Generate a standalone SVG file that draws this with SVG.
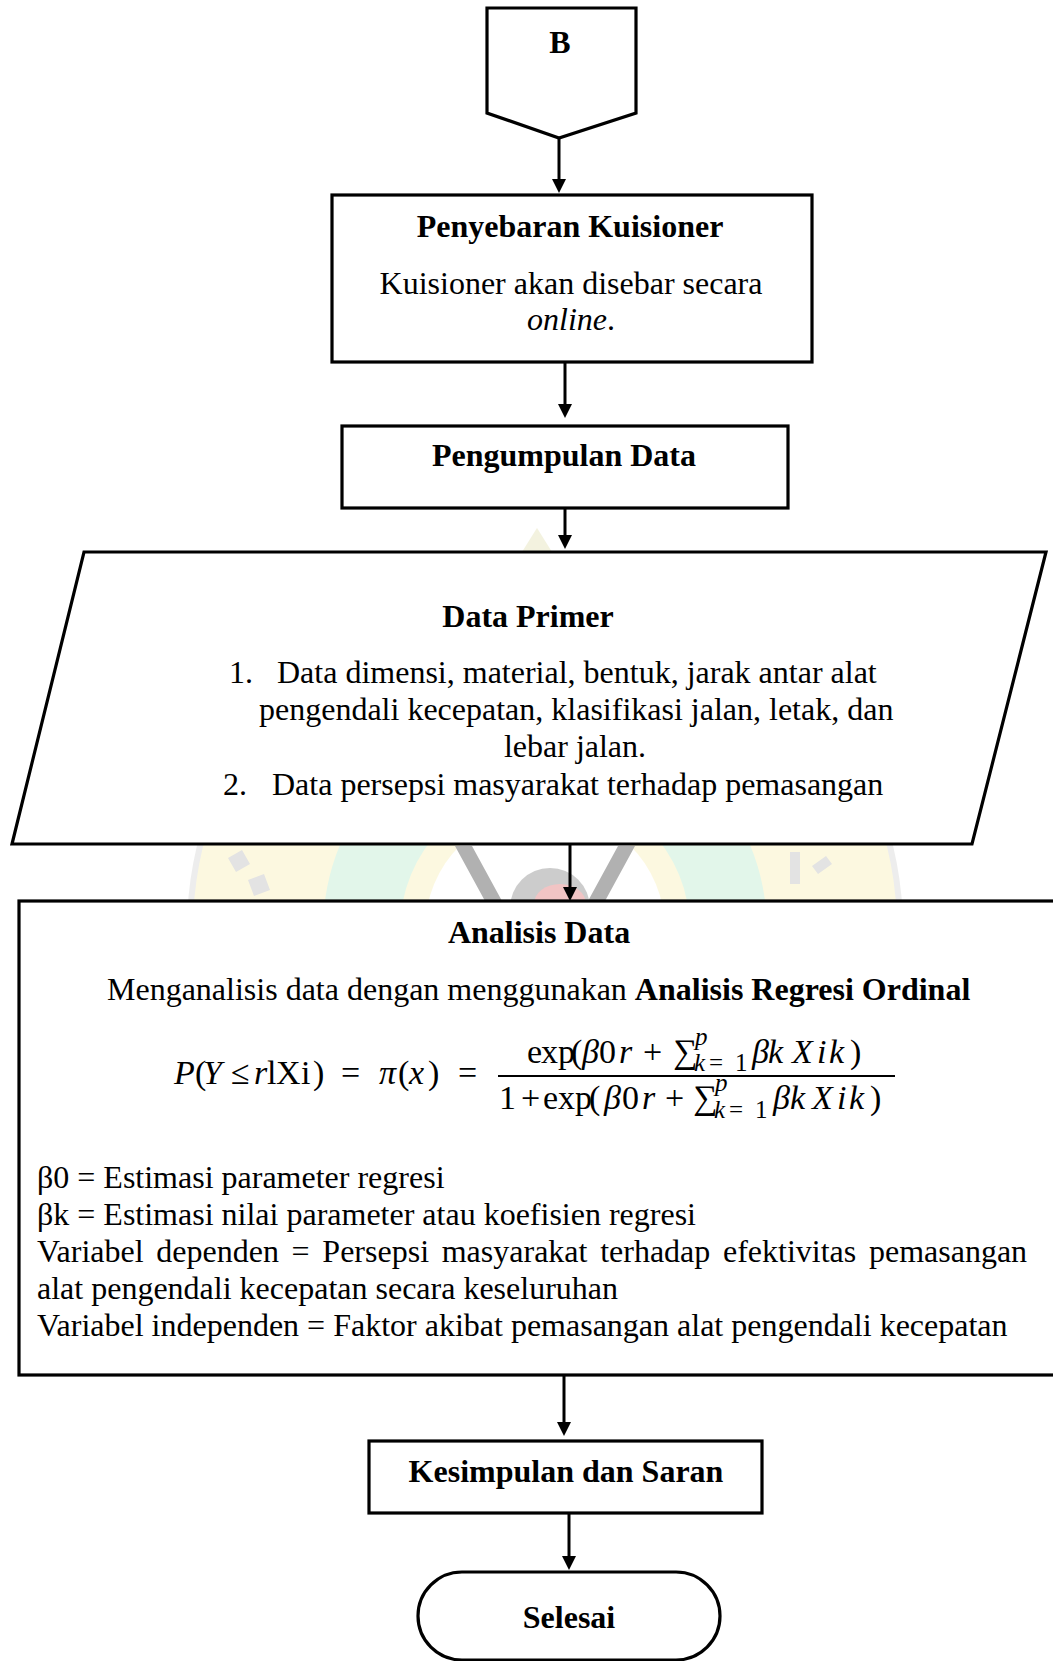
<svg xmlns="http://www.w3.org/2000/svg" width="1053" height="1661" viewBox="0 0 1053 1661">
<style>
  text { font-family: "Liberation Serif", "Times New Roman", serif; font-size: 32px; fill: #000; }
  .b { font-weight: bold; }
  .c { text-anchor: middle; }
  .i { font-style: italic; }
  .m text { font-size: 34px; }
  .m text.sm { font-size: 25px; }
  .shape { fill: #fff; stroke: #000; stroke-width: 3.2; }
  .conn { fill: none; stroke: #000; stroke-width: 3; }
</style>
<defs>
  <marker id="arrow" viewBox="0 0 14 14" refX="6" refY="7" markerWidth="14" markerHeight="14" markerUnits="userSpaceOnUse" orient="auto">
    <path d="M0,0 L14,7 L0,14 Z" fill="#000"/>
  </marker>
</defs>
<rect width="1053" height="1661" fill="#fff"/>

<g id="watermark" opacity="0.5">
  <polygon points="537,528 522,552 552,552" fill="#e8e6c0"/>
  <circle cx="545" cy="930" r="355" fill="#fbf3c2" stroke="#dcdcdc" stroke-width="6"/>
  <circle cx="545" cy="930" r="222" fill="#c6efd6"/>
  <circle cx="545" cy="930" r="145" fill="#fbf3c2"/>
  <circle cx="545" cy="930" r="120" fill="#ffffff"/>
  <path d="M455,846 L472,846 L502,901 L485,901 Z M635,846 L618,846 L588,901 L605,901 Z" fill="#666"/>
  <ellipse cx="550" cy="908" rx="40" ry="40" fill="#9a9a9a"/>
  <ellipse cx="560" cy="904" rx="26" ry="20" fill="#e58a8a"/>
  <path d="M228,858 l14,-8 l8,14 l-14,8 Z M248,880 l16,-6 l6,16 l-16,6 Z M790,852 l10,0 l0,32 l-10,0 Z M812,866 l14,-10 l6,8 l-14,10 Z" fill="#c8c8c8"/>
</g>

<g id="connectors">
  <path class="conn" d="M559,138 V185" marker-end="url(#arrow)"/>
  <path class="conn" d="M565,362 V410" marker-end="url(#arrow)"/>
  <path class="conn" d="M565,508 V541" marker-end="url(#arrow)"/>
  <path class="conn" d="M570,845 V893" stroke-width="2" marker-end="url(#arrow)"/>
  <path class="conn" d="M564,1376 V1428" marker-end="url(#arrow)"/>
  <path class="conn" d="M569,1514 V1562" marker-end="url(#arrow)"/>
</g>

<g id="node-b">
  <polygon class="shape" points="487,8 636,8 636,113 559,138 487,113"/>
  <text class="b c" x="560" y="53">B</text>
</g>

<g id="node-penyebaran">
  <rect class="shape" x="332" y="195" width="480" height="167"/>
  <text class="b c" x="570" y="237">Penyebaran Kuisioner</text>
  <text class="c" x="571" y="294">Kuisioner akan disebar secara</text>
  <text class="c" x="571" y="330"><tspan class="i">online</tspan>.</text>
</g>

<g id="node-pengumpulan">
  <rect class="shape" x="342" y="426" width="446" height="82"/>
  <text class="b c" x="564" y="466">Pengumpulan Data</text>
</g>

<g id="node-data-primer">
  <polygon class="shape" points="84,552 1046,552 972,844 12,844"/>
  <text class="b c" x="528" y="627">Data Primer</text>
  <text x="229" y="683">1.</text>
  <text x="277" y="683">Data dimensi, material, bentuk, jarak antar alat</text>
  <text x="259" y="720">pengendali kecepatan, klasifikasi jalan, letak, dan</text>
  <text class="c" x="575" y="757">lebar jalan.</text>
  <text x="223" y="795">2.</text>
  <text x="272" y="795">Data persepsi masyarakat terhadap pemasangan</text>
</g>

<g id="node-analisis">
  <rect class="shape" x="19" y="901" width="1060" height="474"/>
  <text class="b c" x="539" y="943">Analisis Data</text>
  <text x="107" y="1000">Menganalisis data dengan menggunakan <tspan class="b">Analisis Regresi Ordinal</tspan></text>
  <g class="m">
    <text class="i" x="174" y="1084">P</text>
    <text x="195" y="1084">(</text>
    <text class="i" x="203" y="1084">Y</text>
    <text x="231" y="1084">≤</text>
    <text class="i" x="254" y="1084">r</text>
    <text x="267 276 301 313" y="1084">lXi)</text>
    <text x="341" y="1084">=</text>
    <text class="i" x="379" y="1084">π</text>
    <text x="398 409 428" y="1084">(<tspan class="i">x</tspan>)</text>
    <text x="458" y="1084">=</text>

    <text x="527 541 558 571" y="1063">exp(</text>
    <text class="i" x="582" y="1063">β</text>
    <text x="599" y="1063">0</text>
    <text class="i" x="619" y="1063">r</text>
    <text x="643" y="1063">+</text>
    <text x="673" y="1063">∑</text>
    <text class="sm i" x="695" y="1045">p</text>
    <text class="sm" x="694 709 735" y="1071"><tspan class="i">k</tspan>=1</text>
    <text class="i" x="752 768" y="1063">βk</text>
    <text class="i" x="792 817 829" y="1063">Xik</text>
    <text x="850" y="1063">)</text>

    <line x1="498" y1="1076" x2="895" y2="1076" stroke="#000" stroke-width="2"/>

    <text x="499" y="1109">1</text>
    <text x="521" y="1109">+</text>
    <text x="543 558 575 589" y="1109">exp(</text>
    <text class="i" x="604" y="1109">β</text>
    <text x="622" y="1109">0</text>
    <text class="i" x="642" y="1109">r</text>
    <text x="665" y="1109">+</text>
    <text x="693" y="1109">∑</text>
    <text class="sm i" x="715" y="1091">p</text>
    <text class="sm" x="714 729 755" y="1118"><tspan class="i">k</tspan>=1</text>
    <text class="i" x="773 790" y="1109">βk</text>
    <text class="i" x="812 837 849" y="1109">Xik</text>
    <text x="870" y="1109">)</text>
  </g>
  <text x="37" y="1188">β0 = Estimasi parameter regresi</text>
  <text x="37" y="1225">βk = Estimasi nilai parameter atau koefisien regresi</text>
  <text x="37" y="1262" word-spacing="4.7">Variabel dependen = Persepsi masyarakat terhadap efektivitas pemasangan</text>
  <text x="37" y="1299">alat pengendali kecepatan secara keseluruhan</text>
  <text x="37" y="1336">Variabel independen = Faktor akibat pemasangan alat pengendali kecepatan</text>
</g>

<g id="node-kesimpulan">
  <rect class="shape" x="369" y="1441" width="393" height="72" stroke-width="4"/>
  <text class="b c" x="566" y="1482">Kesimpulan dan Saran</text>
</g>

<g id="node-selesai">
  <rect class="shape" x="418" y="1572" width="302" height="88" rx="44" ry="44"/>
  <text class="b c" x="569" y="1628">Selesai</text>
</g>
</svg>
